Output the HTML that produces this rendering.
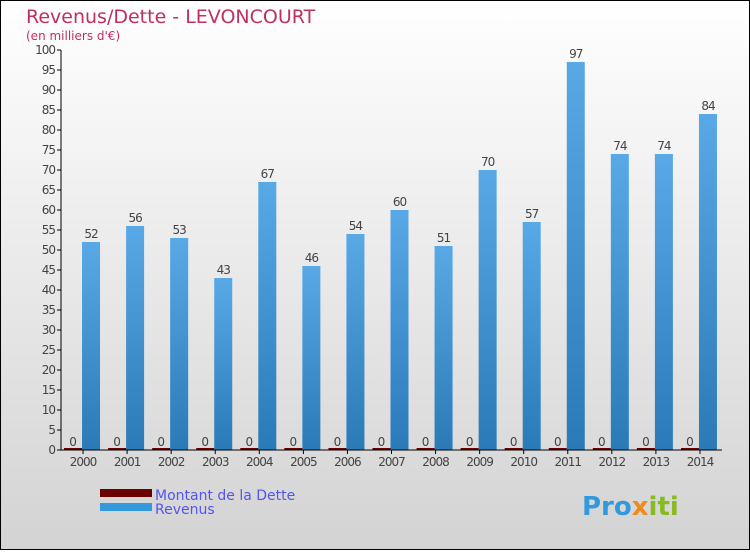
<!DOCTYPE html>
<html><head><meta charset="utf-8"><style>
body{margin:0;}
svg text{font-family:"DejaVu Sans","Liberation Sans",sans-serif;}
</style></head><body>
<svg width="750" height="550" xmlns="http://www.w3.org/2000/svg">
<defs>
<linearGradient id="bg" x1="0" y1="0" x2="0" y2="1"><stop offset="0" stop-color="#ffffff"/><stop offset="1" stop-color="#d3d3d3"/></linearGradient>
<linearGradient id="rb" x1="0" y1="0" x2="0" y2="1"><stop offset="0" stop-color="#58a9e6"/><stop offset="1" stop-color="#2a7ab8"/></linearGradient>
</defs>
<rect x="0.5" y="0.5" width="749" height="549" fill="url(#bg)" stroke="#000"/>
<text x="26" y="23" font-size="19" fill="#c0305e">Revenus/Dette - LEVONCOURT</text>
<text x="26" y="40" font-size="12" fill="#c0305e">(en milliers d'€)</text>
<g id="plot"></g>
<g>
<rect x="100" y="489" width="52" height="8" fill="#6b0000"/>
<text x="155" y="500" font-size="14" fill="#5555ee">Montant de la Dette</text>
<rect x="100" y="503" width="52" height="8" fill="#3399dd"/>
<text x="155" y="514" font-size="14" fill="#5555ee">Revenus</text>
</g>
<text x="582" y="515" font-size="26" font-weight="bold" fill="#3399dd">Pro<tspan fill="#f08a1c">x</tspan><tspan fill="#88bb22">iti</tspan></text>
</svg>
<script>
const categories=["2000","2001","2002","2003","2004","2005","2006","2007","2008","2009","2010","2011","2012","2013","2014"];
const dette=[0,0,0,0,0,0,0,0,0,0,0,0,0,0,0];
const revenus=[52,56,53,43,67,46,54,60,51,70,57,97,74,74,84];
const yTicks=[0,5,10,15,20,25,30,35,40,45,50,55,60,65,70,75,80,85,90,95,100];
const NS="http://www.w3.org/2000/svg";
const g=document.getElementById('plot');
const x0=61,x1=722,y0=450,y1=50,yMax=100;
const step=(x1-x0)/categories.length;
const y=v=>y0-(v/yMax)*(y0-y1);
const xc=i=>x0+step*(i+0.5);
function mk(t,a,p){const e=document.createElementNS(NS,t);for(const k in a)e.setAttribute(k,a[k]);(p||g).appendChild(e);return e;}
yTicks.forEach(t=>{
 const l=mk('line',{x1:x0-4,x2:x0,y1:y(t),y2:y(t),stroke:'#000'});
 
 
 const tx=mk('text',{x:x0-6,y:y(t)+4,'font-size':12,fill:'#444','text-anchor':'end','letter-spacing':'-1'});
 tx.textContent=t;
 
 
});
categories.forEach((c,i)=>{
 const cx=xc(i);
 const bd=mk('rect',{x:cx-19,y:y(dette[i])-2,width:18,height:Math.max(2,y0-y(dette[i])),fill:'#6b0000'});
 
 
 const br=mk('rect',{x:cx-1,y:y(revenus[i]),width:18,height:y0-y(revenus[i]),fill:'url(#rb)'});
 
 
 const ld=mk('text',{x:cx-10,y:y(dette[i])-4,'font-size':12,fill:'#444','text-anchor':'middle'});
 ld.textContent=dette[i];
 
 
 const lr=mk('text',{x:cx+8,y:y(revenus[i])-4,'font-size':12,fill:'#444','text-anchor':'middle','letter-spacing':'-1'});
 lr.textContent=revenus[i];
 
 
 const tk=mk('line',{x1:cx,x2:cx,y1:y0,y2:y0+4,stroke:'#000'});
 
 
 const xl=mk('text',{x:cx,y:y0+16,'font-size':12,fill:'#444','text-anchor':'middle','letter-spacing':'-1'});
 xl.textContent=c;
 
 
});
const ya=mk('line',{x1:x0,x2:x0,y1:y1,y2:y0,stroke:'#000'});


const xa=mk('line',{x1:x0,x2:x1,y1:y0,y2:y0,stroke:'#000'});


</script>
</body></html>
